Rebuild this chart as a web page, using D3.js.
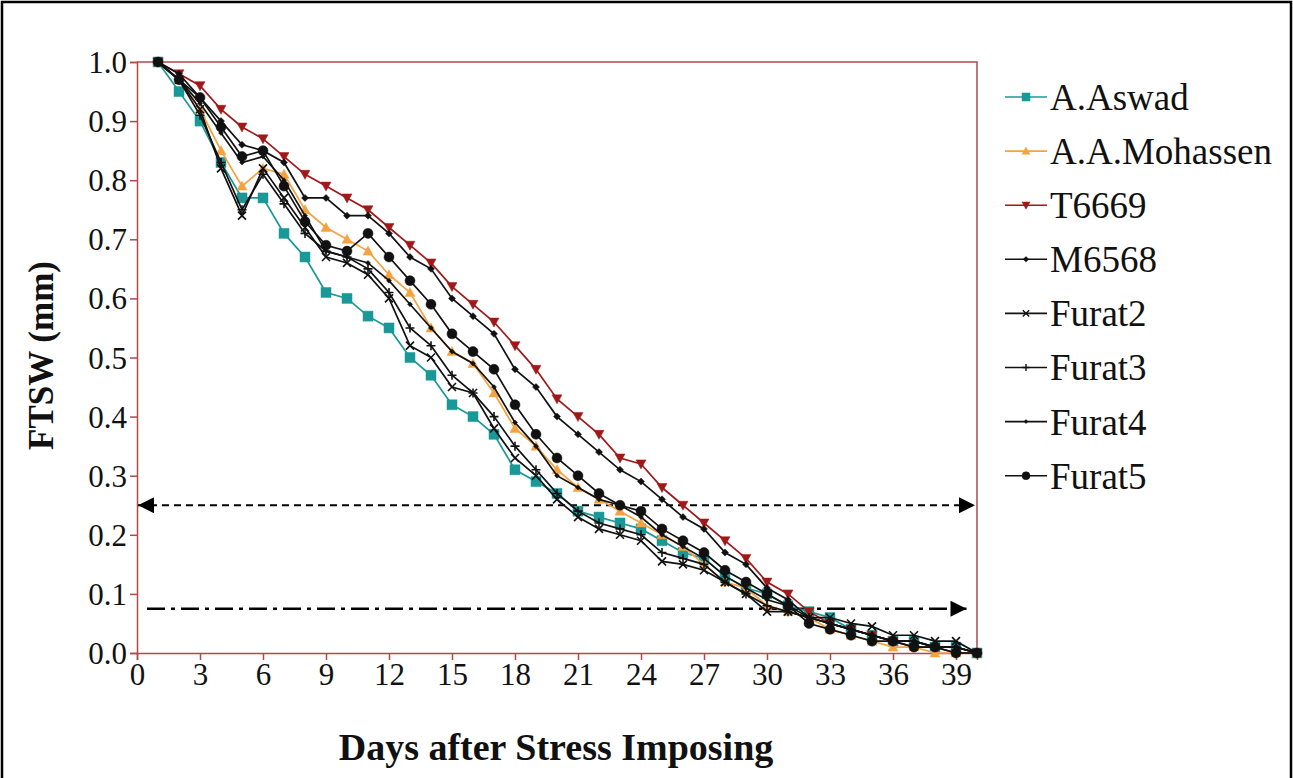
<!DOCTYPE html>
<html>
<head>
<meta charset="utf-8">
<script src="https://cdn.jsdelivr.net/npm/d3@7"></script>
<style>
  body { margin: 0; background: #fff; }
  svg { display: block; }
</style>
</head>
<body>
<svg id="chart"></svg>
<script>
// days 1..40, FTSW
const days = d3.range(1, 41);
const aswad    = [1.00,0.95,0.90,0.83,0.77,0.77,0.71,0.67,0.61,0.60,0.57,0.55,0.50,0.47,0.42,0.40,0.37,0.31,0.29,0.27,0.24,0.23,0.22,0.21,0.19,0.17,0.16,0.13,0.11,0.10,0.08,0.07,0.06,0.04,0.03,0.02,0.02,0.01,0.01,0.00];
const mohassen = [1.00,0.97,0.92,0.85,0.79,0.82,0.81,0.75,0.72,0.70,0.68,0.64,0.61,0.55,0.51,0.49,0.44,0.38,0.35,0.31,0.28,0.26,0.24,0.22,0.20,0.18,0.15,0.12,0.11,0.08,0.07,0.06,0.04,0.03,0.02,0.01,0.01,0.00,0.00,0.00];
const t6669    = [1.00,0.98,0.96,0.92,0.89,0.87,0.84,0.81,0.79,0.77,0.75,0.72,0.69,0.66,0.62,0.59,0.56,0.52,0.48,0.43,0.40,0.37,0.33,0.32,0.28,0.25,0.22,0.19,0.16,0.12,0.10,0.07,0.05,0.04,0.03,0.02,0.01,0.01,0.00,0.00];
const m6568    = [1.00,0.98,0.94,0.90,0.86,0.85,0.83,0.77,0.77,0.74,0.74,0.71,0.67,0.65,0.60,0.57,0.54,0.48,0.45,0.40,0.37,0.34,0.31,0.29,0.26,0.23,0.21,0.17,0.15,0.11,0.09,0.06,0.05,0.04,0.03,0.02,0.02,0.01,0.01,0.00];
const furat2   = [1.00,0.97,0.92,0.82,0.74,0.82,0.77,0.72,0.67,0.66,0.64,0.60,0.52,0.50,0.45,0.44,0.38,0.33,0.30,0.26,0.23,0.21,0.20,0.19,0.155,0.15,0.14,0.12,0.10,0.07,0.07,0.06,0.06,0.05,0.045,0.03,0.03,0.02,0.02,0.00];
const furat3   = [1.00,0.97,0.91,0.83,0.75,0.81,0.76,0.71,0.68,0.67,0.65,0.61,0.55,0.52,0.47,0.44,0.40,0.35,0.31,0.27,0.24,0.22,0.21,0.20,0.17,0.16,0.15,0.12,0.10,0.08,0.07,0.06,0.05,0.04,0.03,0.02,0.02,0.01,0.01,0.00];
const furat4   = [1.00,0.97,0.93,0.88,0.83,0.84,0.80,0.74,0.68,0.67,0.66,0.63,0.59,0.55,0.51,0.49,0.45,0.39,0.35,0.30,0.28,0.26,0.25,0.23,0.20,0.18,0.16,0.13,0.11,0.09,0.08,0.06,0.05,0.04,0.03,0.02,0.02,0.01,0.01,0.00];
const furat5   = [1.00,0.97,0.94,0.89,0.84,0.85,0.79,0.73,0.69,0.68,0.71,0.67,0.63,0.59,0.54,0.51,0.48,0.42,0.37,0.33,0.30,0.27,0.25,0.24,0.21,0.19,0.17,0.14,0.12,0.10,0.08,0.05,0.04,0.03,0.02,0.02,0.01,0.01,0.00,0.00];

const seriesNames = ["A.Aswad", "A.A.Mohassen", "T6669", "M6568", "Furat2", "Furat3", "Furat4", "Furat5"];
const seriesValues = [aswad, mohassen, t6669, m6568, furat2, furat3, furat4, furat5];
const xTicks = d3.range(0, 40, 3);
const yTicks = d3.range(0, 11).map(d => d / 10);
const thresholds = [0.25, 0.075];

const width = 1293, height = 778;
const margin = {top: 62, right: 316, bottom: 125, left: 137};
const axisColor = "#b04a4a";

const styles = [
    {color: "#1a9898", marker: "square", size: 10},
    {color: "#f4a340", marker: "tri", size: 10},
    {color: "#a01818", marker: "triDown", size: 10},
    {color: "#111", marker: "diamond", size: 7},
    {color: "#111", marker: "x", size: 8},
    {color: "#111", marker: "plus", size: 9},
    {color: "#111", marker: "diamond", size: 5},
    {color: "#111", marker: "circle", size: 10}
];

const svg = d3.select("#chart")
    .attr("width", width)
    .attr("height", height)
    .style("font-family", "'Liberation Serif', 'Times New Roman', serif");

svg.append("rect")
    .attr("x", 2).attr("y", 2)
    .attr("width", width - 4).attr("height", height + 4)
    .attr("fill", "#fff")
    .attr("stroke", "#000")
    .attr("stroke-width", 2.5);

const x = d3.scaleLinear().domain([0, 40]).range([margin.left, width - margin.right]);
const y = d3.scaleLinear().domain([0, 1]).range([653, margin.top]);

// plot frame (top and right)
svg.append("path")
    .attr("d", `M${x(0)},${y(1)}H${x(40)}V${y(0)}`)
    .attr("fill", "none")
    .attr("stroke", axisColor)
    .attr("stroke-width", 1.5);

const xAxis = svg.append("g")
    .attr("transform", `translate(0,${y(0)})`)
    .call(d3.axisBottom(x).tickValues(xTicks).tickSize(7).tickPadding(3).tickFormat(d3.format("d")));
const yAxis = svg.append("g")
    .attr("transform", `translate(${x(0)},0)`)
    .call(d3.axisLeft(y).tickValues(yTicks).tickSize(7).tickPadding(3).tickFormat(d3.format(".1f")));

[xAxis, yAxis].forEach(g => {
    g.select(".domain").attr("stroke", axisColor).attr("stroke-width", 1.5);
    g.selectAll(".tick line").attr("stroke", axisColor).attr("stroke-width", 1.5);
    g.selectAll(".tick text")
        .attr("fill", "#111")
        .style("font-family", "'Liberation Serif', serif")
        .style("font-size", "31px");
});
yAxis.selectAll(".tick text").attr("dy", "0.34em");

// axis titles
svg.append("text")
    .attr("x", x(20) - 1)
    .attr("y", 760)
    .attr("text-anchor", "middle")
    .style("font-size", "38px")
    .style("font-weight", "bold")
    .attr("fill", "#111")
    .text("Days after Stress Imposing");

svg.append("text")
    .attr("transform", `translate(53,${y(0.5) - 2}) rotate(-90)`)
    .attr("text-anchor", "middle")
    .style("font-size", "35px")
    .style("font-weight", "bold")
    .attr("fill", "#111")
    .text("FTSW (mm)");

// threshold arrows
const defs = svg.append("defs");
defs.append("marker")
    .attr("id", "arrow")
    .attr("viewBox", "0 0 10 10")
    .attr("refX", 10).attr("refY", 5)
    .attr("markerWidth", 20).attr("markerHeight", 16)
    .attr("markerUnits", "userSpaceOnUse")
    .attr("orient", "auto-start-reverse")
    .append("path")
    .attr("d", "M0,0L10,5L0,10Z")
    .attr("fill", "#000");

svg.append("line")
    .attr("x1", x(0) + 1).attr("x2", x(40) - 2)
    .attr("y1", y(thresholds[0])).attr("y2", y(thresholds[0]))
    .attr("stroke", "#000")
    .attr("stroke-width", 2.2)
    .attr("stroke-dasharray", "7,5")
    .attr("marker-start", "url(#arrow)")
    .attr("marker-end", "url(#arrow)");

svg.append("line")
    .attr("x1", x(0) + 10).attr("x2", x(39.5))
    .attr("y1", y(thresholds[1])).attr("y2", y(thresholds[1]))
    .attr("stroke", "#000")
    .attr("stroke-width", 2.4)
    .attr("stroke-dasharray", "18,6,4,6")
    .attr("marker-end", "url(#arrow)");

function markerPath(type, s) {
    const h = s / 2;
    switch (type) {
        case "square": return `M${-h},${-h}h${s}v${s}h${-s}Z`;
        case "tri": return `M0,${-h}L${h},${h * 0.8}L${-h},${h * 0.8}Z`;
        case "triDown": return `M0,${h}L${h},${-h * 0.8}L${-h},${-h * 0.8}Z`;
        case "diamond": return `M0,${-h}L${h},0L0,${h}L${-h},0Z`;
        case "x": return `M${-h},${-h}L${h},${h}M${-h},${h}L${h},${-h}`;
        case "plus": return `M0,${-h}V${h}M${-h},0H${h}`;
        case "circle": return d3.symbol(d3.symbolCircle, Math.PI * h * h)();
    }
}

const line = d3.line().x(d => x(d[0])).y(d => y(d[1]));

const gSeries = svg.append("g");
seriesValues.forEach((vals, i) => {
    const st = styles[i];
    const pts = days.map((d, j) => [d, vals[j]]);
    const g = gSeries.append("g");
    g.append("path")
        .datum(pts)
        .attr("d", line)
        .attr("fill", "none")
        .attr("stroke", st.color)
        .attr("stroke-width", 1.7);
    g.selectAll("path.m")
        .data(pts)
        .join("path")
        .attr("class", "m")
        .attr("transform", d => `translate(${x(d[0])},${y(d[1])})`)
        .attr("d", markerPath(st.marker, st.size))
        .attr("fill", st.color)
        .attr("stroke", st.color)
        .attr("stroke-width", st.marker === "x" || st.marker === "plus" ? 1.6 : 0.5);
});

// legend
const legend = svg.append("g").attr("transform", "translate(1005,97)");
seriesNames.forEach((name, i) => {
    const st = styles[i];
    const row = legend.append("g").attr("transform", `translate(0,${i * 54.1})`);
    row.append("line")
        .attr("x1", 0).attr("x2", 42)
        .attr("stroke", st.color)
        .attr("stroke-width", 1.6);
    row.append("path")
        .attr("transform", "translate(21,0)")
        .attr("d", markerPath(st.marker, st.size * 0.8))
        .attr("fill", st.color)
        .attr("stroke", st.color)
        .attr("stroke-width", st.marker === "x" || st.marker === "plus" ? 1.4 : 0.5);
    row.append("text")
        .attr("x", 45)
        .attr("dy", "0.35em")
        .style("font-size", "37px")
        .attr("fill", "#111")
        .text(name);
});
</script>
</body>
</html>
